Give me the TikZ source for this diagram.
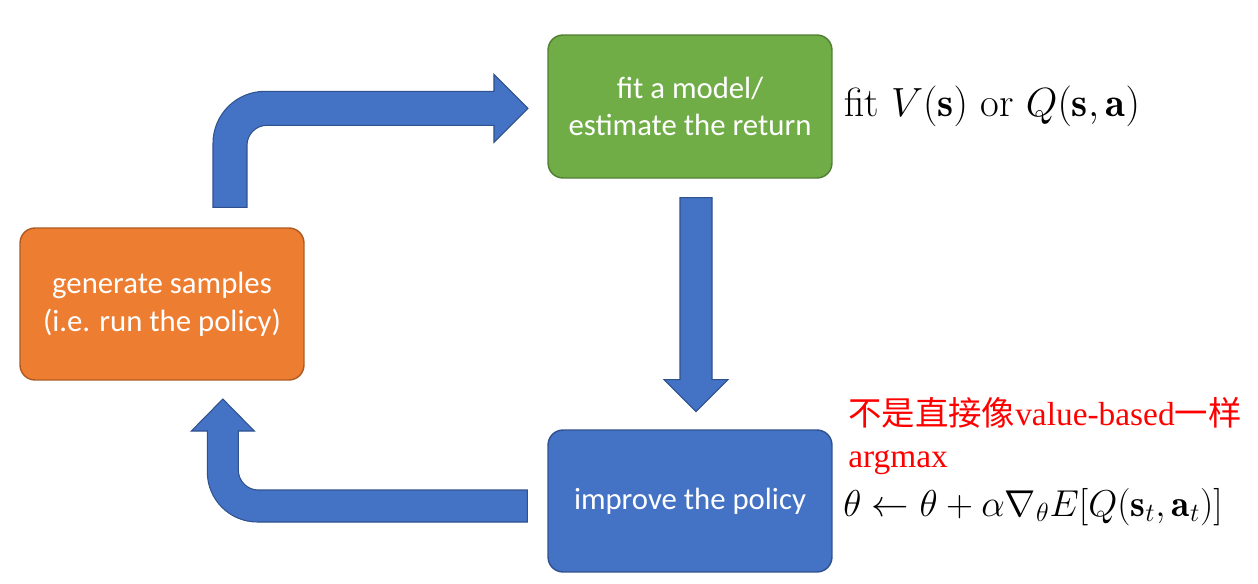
\RequirePackage{fix-cm}
\documentclass[tikz,border=0pt]{standalone}
\usepackage{amsmath}
\usepackage{fontspec}
\usepackage{xcolor}
\usepackage{tikz}
\usetikzlibrary{positioning,calc}
\newfontfamily\boxfont{Carlito}
\newfontfamily\cjkfont{Noto Sans CJK SC}
\newfontfamily\notefont{Liberation Serif}
\definecolor{fitgreen}{HTML}{70AD47}
\definecolor{fitedge}{HTML}{507E32}
\definecolor{genorange}{HTML}{ED7D31}
\definecolor{genedge}{HTML}{AE5A21}
\definecolor{impblue}{HTML}{4472C4}
\definecolor{impedge}{HTML}{2F528F}

\begin{document}
\begin{tikzpicture}[
  x=0.02cm, y=0.02cm,
  stepbox/.style={rounded corners=0.3cm,line width=0.8pt,text=white,align=center,
                  minimum width=5.68cm,minimum height=2.86cm,
                  font=\boxfont\fontsize{17.5}{21.5}\selectfont},
  blockarrow/.style={fill=impblue,draw=impedge,line width=0.6pt,line join=miter},
  mathlbl/.style={inner sep=0pt,font=\fontsize{23.2}{27}\selectfont},
  note/.style={inner sep=0pt,text=red,font=\notefont\fontsize{19}{22}\selectfont},
]
\useasboundingbox (0,0) rectangle (1258,583);

% ---- Boxes
\node[stepbox,fill=fitgreen,draw=fitedge] (fit) at (690,476.5)
     {fit a model/\\estimate the return};
\node[stepbox,fill=genorange,draw=genedge,minimum height=3.04cm] (gen) at (162,279)
     {\raisebox{-4pt}{generate samples}\\\raisebox{-4pt}{(i.e. run the policy)}};
\node[stepbox,fill=impblue,draw=impedge,minimum height=2.84cm] (imp) at (690,82)
     {improve the policy};

% ---- Block arrows
\coordinate (upstart)   at ($(gen.north)+(51,20)$);
\coordinate (downstart) at ($(fit.south)+(-10,-19)$);
\coordinate (backstart) at ($(imp.west)+(-20,11)$);

\draw[blockarrow] (upstart) -- ++(0,64)
  arc[start angle=180,end angle=90,radius=1.04cm] -- ++(229,0) -- ++(0,17)
  -- ++(34,-34) -- ++(-34,-34) -- ++(0,17) -- ++(-227,0)
  arc[start angle=90,end angle=180,radius=0.4cm] -- ++(0,-62) -- cycle;
\draw[blockarrow] (downstart) -- ++(32,0) -- ++(0,-182) -- ++(16,0)
  -- ++(-32,-32) -- ++(-32,32) -- ++(16,0) -- cycle;
\draw[blockarrow] (backstart) -- ++(-269,0)
  arc[start angle=270,end angle=180,radius=0.4cm] -- ++(0,39) -- ++(16,0)
  -- ++(-31.5,32) -- ++(-31.5,-32) -- ++(16,0) -- ++(0,-41)
  arc[start angle=180,end angle=270,radius=1cm] -- ++(270,0) -- cycle;

% ---- Labels
\node[mathlbl,right=0.22cm of fit] (fitlbl)
     {fit $V(\mathbf{s})$ or $Q(\mathbf{s},\mathbf{a})$};
\node[note,anchor=base west] (note1) at (848,158)
     {{\cjkfont 不是直接像}value-based{\cjkfont 一样}};
\node[note,anchor=base west] (note2) at (848,116) {argmax};
\node[mathlbl,anchor=base west,font=\fontsize{21.3}{25}\selectfont] (update) at (843,67)
     {$\theta \leftarrow \theta + \alpha\nabla_\theta E[Q(\mathbf{s}_t,\mathbf{a}_t)]$};

\end{tikzpicture}
\end{document}
